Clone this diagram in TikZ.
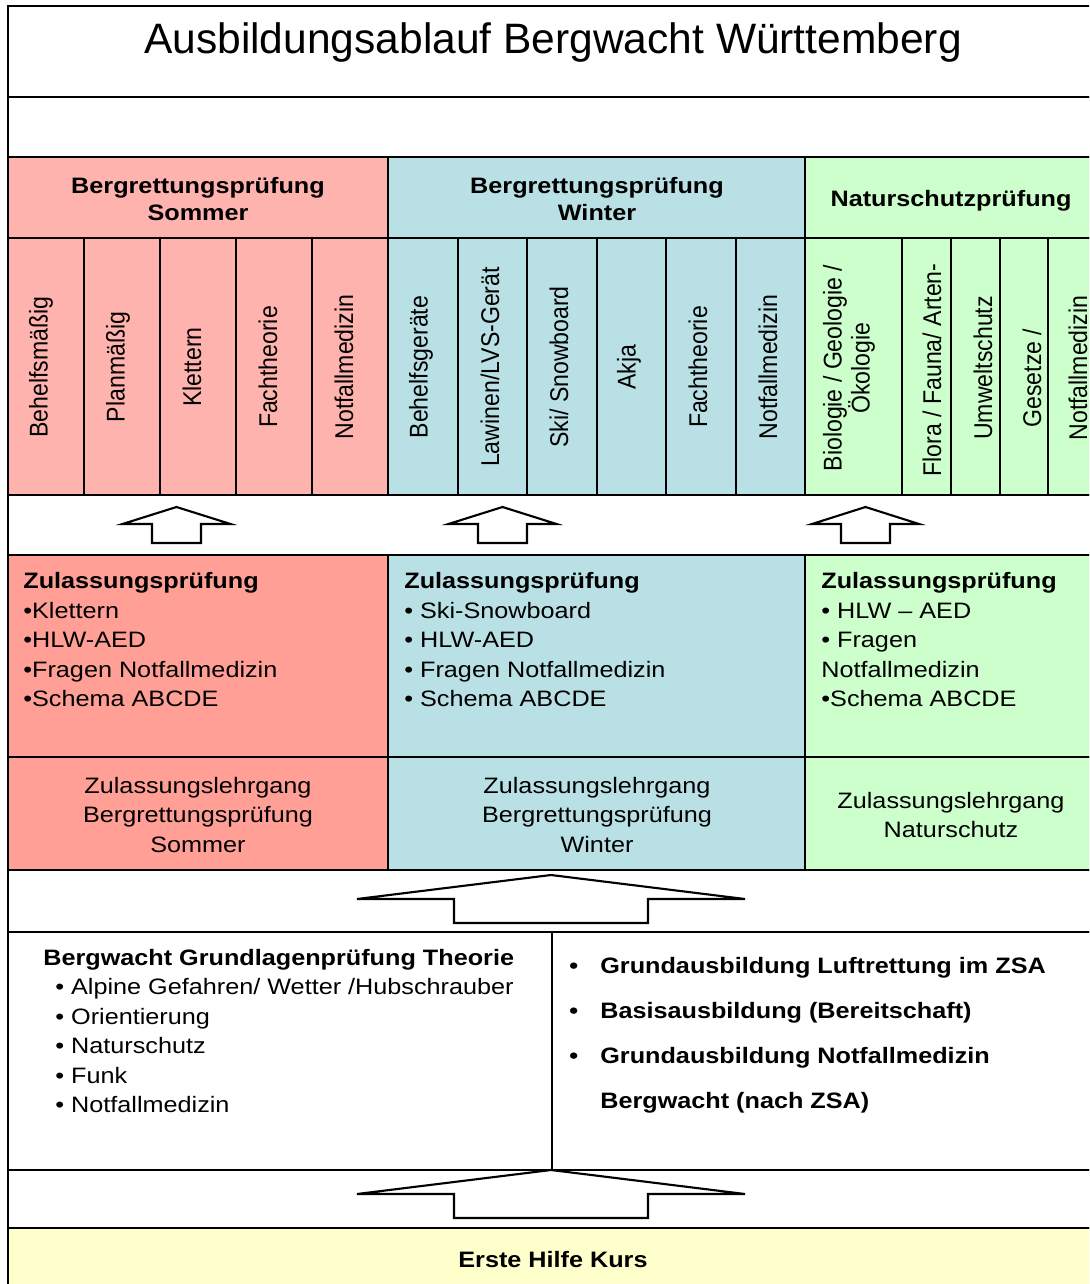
\documentclass[tikz,border=0pt]{standalone}
\usepackage{fontspec}
\setmainfont{Liberation Sans}[FakeStretch=1.13]
\newfontfamily\titlefont{Liberation Sans}
\newfontfamily\rotfont{Liberation Sans}[FakeStretch=0.9]

\definecolor{sommerhell}{RGB}{255,179,174}
\definecolor{sommerdunkel}{RGB}{255,159,150}
\definecolor{winterblau}{RGB}{185,224,228}
\definecolor{naturgruen}{RGB}{204,255,204}
\definecolor{hilfegelb}{RGB}{255,255,204}

\tikzset{
  cell/.style={draw=black, line width=1pt},
  subj/.style={rotate=90, inner sep=0pt, align=center,
    font=\rotfont\fontsize{14.6}{16}\selectfont},
  head/.style={inner sep=0pt, align=center,
    font=\bfseries\fontsize{12.7}{15.9}\selectfont},
  body/.style={inner sep=0pt, align=left, anchor=north west,
    font=\fontsize{12.7}{16.8}\selectfont},
  plain/.style={inner sep=0pt, align=center,
    font=\fontsize{12.7}{16.8}\selectfont},
  hollow/.style={draw=black, fill=white, line width=1.2pt},
}

\begin{document}
\begin{tikzpicture}[x=0.02cm, y=-0.02cm]
    \useasboundingbox (0,0) rectangle (1089,1284);
    \clip (0,0) rectangle (1089,1284);

    % rows
    \filldraw[cell, fill=white] (8,6) rectangle (1100,97);
    \filldraw[cell, fill=white] (8,97) rectangle (1100,157);
    \filldraw[cell, fill=sommerhell] (8,157) rectangle (388,238);
    \filldraw[cell, fill=winterblau] (388,157) rectangle (805,238);
    \filldraw[cell, fill=naturgruen] (805,157) rectangle (1100,238);
    \foreach \xa/\xb in {8/84,84/160,160/236,236/312,312/388}
      \filldraw[cell, fill=sommerhell] (\xa,238) rectangle (\xb,495);
    \foreach \xa/\xb in {388/458,458/527,527/597,597/666,666/736,736/805}
      \filldraw[cell, fill=winterblau] (\xa,238) rectangle (\xb,495);
    \foreach \xa/\xb in {805/902,902/951,951/1000,1000/1048,1048/1100}
      \filldraw[cell, fill=naturgruen] (\xa,238) rectangle (\xb,495);
    \filldraw[cell, fill=white] (8,495) rectangle (1100,555);
    \filldraw[cell, fill=sommerdunkel] (8,555) rectangle (388,757);
    \filldraw[cell, fill=winterblau] (388,555) rectangle (805,757);
    \filldraw[cell, fill=naturgruen] (805,555) rectangle (1100,757);
    \filldraw[cell, fill=sommerdunkel] (8,757) rectangle (388,870);
    \filldraw[cell, fill=winterblau] (388,757) rectangle (805,870);
    \filldraw[cell, fill=naturgruen] (805,757) rectangle (1100,870);
    \filldraw[cell, fill=white] (8,870) rectangle (1100,932);
    \filldraw[cell, fill=white] (8,932) rectangle (552,1170);
    \filldraw[cell, fill=white] (552,932) rectangle (1100,1170);
    \filldraw[cell, fill=white] (8,1170) rectangle (1100,1228);
    \filldraw[cell, fill=hilfegelb] (8,1228) rectangle (1100,1300);

    % arrows
    \filldraw[hollow] (176.5,507) -- (230.5,524) -- (201,524) -- (201,543)
      -- (152,543) -- (152,524) -- (122.5,524) -- cycle;
    \filldraw[hollow] (502.5,507) -- (556.5,524) -- (527,524) -- (527,543)
      -- (478,543) -- (478,524) -- (448.5,524) -- cycle;
    \filldraw[hollow] (865.5,507) -- (919,524) -- (890,524) -- (890,543)
      -- (841,543) -- (841,524) -- (812,524) -- cycle;
    \filldraw[hollow] (551,875) -- (745,899) -- (648,899) -- (648,923)
      -- (454,923) -- (454,899) -- (357,899) -- cycle;
    \filldraw[hollow] (551,1170) -- (745,1194) -- (648,1194) -- (648,1218)
      -- (454,1218) -- (454,1194) -- (357,1194) -- cycle;

    \node[inner sep=0pt, font=\titlefont\fontsize{24.2}{29}\selectfont] (titel) at (553,43)
      {Ausbildungsablauf Bergwacht Württemberg};

    \node[head] (hs) at (198,199) {Bergrettungsprüfung\\Sommer};
    \node[head] (hw) at (597,199) {Bergrettungsprüfung\\Winter};
    \node[head] (hn) at (951,201) {Naturschutzprüfung};

    \node[subj] (s1) at (41,367) {Behelfsmäßig};
    \node[subj] (s2) at (118,367) {Planmäßig};
    \node[subj] (s3) at (192,367) {Klettern};
    \node[subj] (s4) at (268,367) {Fachtheorie};
    \node[subj] (s5) at (344,367) {Notfallmedizin};

    \node[subj] (w1) at (421,367) {Behelfsgeräte};
    \node[subj] (w2) at (490,367) {Lawinen/LVS-Gerät};
    \node[subj] (w3) at (559,367) {Ski/ Snowboard};
    \node[subj] (w4) at (629,367) {Akja};
    \node[subj] (w5) at (698,367) {Fachtheorie};
    \node[subj] (w6) at (768,367) {Notfallmedizin};

    \node[subj] (n1) at (849,368) {Biologie / Geologie /\\Ökologie};
    \node[subj] (n2) at (932,370) {Flora / Fauna/ Arten-};
    \node[subj] (n3) at (983,368) {Umweltschutz};
    \node[subj] (n4) at (1032,378) {Gesetze /};
    \node[subj] (n5) at (1078,368) {Notfallmedizin};

    \node[body] (zs) at (23,572) {\textbf{Zulassungsprüfung}\\•Klettern\\•HLW-AED\\•Fragen Notfallmedizin\\•Schema ABCDE};
    \node[body] (zw) at (404,572) {\textbf{Zulassungsprüfung}\\• Ski-Snowboard\\• HLW-AED\\• Fragen Notfallmedizin\\• Schema ABCDE};
    \node[body] (zn) at (821,572) {\textbf{Zulassungsprüfung}\\• HLW – AED\\• Fragen\\Notfallmedizin\\•Schema ABCDE};

    \node[plain] (ls) at (198,815) {Zulassungslehrgang\\Bergrettungsprüfung\\Sommer};
    \node[plain] (lw) at (597,815) {Zulassungslehrgang\\Bergrettungsprüfung\\Winter};
    \node[plain] (ln) at (951,815) {Zulassungslehrgang\\Naturschutz};

    \node[body, font=\bfseries\fontsize{12.7}{16.8}\selectfont] (gt) at (43,949)
      {Bergwacht Grundlagenprüfung Theorie};
    \node[body] (gl) at (55,978) {• Alpine Gefahren/ Wetter /Hubschrauber\\• Orientierung\\• Naturschutz\\• Funk\\• Notfallmedizin};
    \node[body, font=\bfseries\fontsize{12.7}{25.6}\selectfont] (ga) at (569,957)
      {\makebox[0.62cm][l]{•}Grundausbildung Luftrettung im ZSA\\
       \makebox[0.62cm][l]{•}Basisausbildung (Bereitschaft)\\
       \makebox[0.62cm][l]{•}Grundausbildung Notfallmedizin\\
       \hspace*{0.62cm}Bergwacht (nach ZSA)};

    \node[head] (eh) at (553,1260) {Erste Hilfe Kurs};
  \end{tikzpicture}
\end{document}
